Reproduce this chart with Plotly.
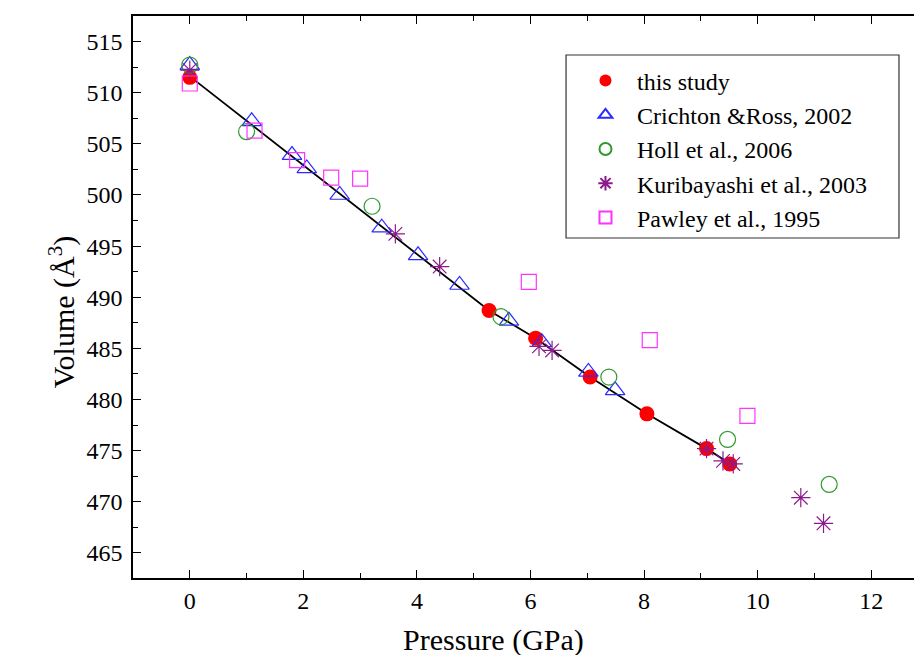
import plotly.graph_objects as go

# this study
study_p = [0.0, 5.27, 6.09, 7.05, 8.05, 9.10, 9.51]
study_v = [511.5, 488.7, 486.0, 482.2, 478.6, 475.2, 473.7]

# Crichton & Ross, 2002
cr_p = [0.0, 1.09, 1.80, 2.06, 2.64, 3.38, 4.02, 4.75, 5.62, 6.20, 7.02, 7.49]
cr_v = [512.7, 507.2, 503.9, 502.6, 500.0, 496.8, 494.1, 491.2, 487.7, 485.6, 482.7, 480.9]

# Holl et al., 2006
holl_p = [0.0, 1.00, 3.21, 5.48, 7.38, 9.47, 11.26]
holl_v = [512.7, 506.2, 498.9, 488.1, 482.2, 476.1, 471.7]

# Kuribayashi et al., 2003
kur_p = [0.0, 3.62, 4.40, 6.15, 6.38, 9.10, 9.39, 9.57, 10.76, 11.16]
kur_v = [512.2, 496.2, 493.0, 485.2, 484.8, 475.2, 474.0, 473.7, 470.4, 467.9]

# Pawley et al., 1995
paw_p = [0.0, 1.14, 1.89, 2.49, 3.00, 5.97, 8.10, 9.82]
paw_v = [510.9, 506.3, 503.4, 501.7, 501.6, 491.5, 485.8, 478.4]

# fitted curve vertices (follow this study)
fit_p = [0.0, 5.27, 6.09, 7.05, 8.05, 9.10, 9.55]
fit_v = [511.6, 488.7, 486.0, 482.2, 478.6, 475.2, 473.6]

FONT = "Liberation Serif"

fig = go.Figure()
fig.add_trace(go.Scatter(x=fit_p, y=fit_v, mode="lines",
                         line=dict(color="black", width=1.8), showlegend=False))
fig.add_trace(go.Scatter(x=study_p, y=study_v, mode="markers", name="this study",
                         marker=dict(symbol="circle", size=15, color="#ff0000")))
fig.add_trace(go.Scatter(x=cr_p, y=cr_v, mode="markers", name="Crichton &Ross, 2002",
                         marker=dict(symbol="triangle-up-open", size=17, color="#2b2bff",
                                     line=dict(width=1.2))))
fig.add_trace(go.Scatter(x=holl_p, y=holl_v, mode="markers", name="Holl et al., 2006",
                         marker=dict(symbol="circle-open", size=16, color="#2e9a2e",
                                     line=dict(width=1.2))))
fig.add_trace(go.Scatter(x=kur_p, y=kur_v, mode="markers", name="Kuribayashi et al., 2003",
                         marker=dict(symbol="asterisk-open", size=16, color="#8b1a8b",
                                     line=dict(width=1.2, color="#8b1a8b"))))
fig.add_trace(go.Scatter(x=paw_p, y=paw_v, mode="markers", name="Pawley et al., 1995",
                         marker=dict(symbol="square-open", size=15, color="#ff33ff",
                                     line=dict(width=1.2))))

axis_common = dict(showline=True, linecolor="black", linewidth=1.5, mirror="allticks",
                   ticks="inside", ticklen=8, tickwidth=1.3, tickcolor="black",
                   showgrid=False, zeroline=False, automargin=False,
                   tickfont=dict(family=FONT, size=24, color="black"))

fig.update_xaxes(range=[-1, 13], dtick=2, tick0=0,
                 minor=dict(dtick=1, ticks="inside", ticklen=5, tickwidth=1.2, tickcolor="black"),
                 ticklabelstandoff=0,
                 **axis_common)
fig.update_yaxes(range=[462.55, 517.5], dtick=5, tick0=465,
                 minor=dict(dtick=2.5, ticks="inside", ticklen=5, tickwidth=1.2, tickcolor="black"),
                 ticklabelstandoff=4,
                 **axis_common)

# legend frame
fig.add_shape(type="rect", xref="paper", yref="paper",
              x0=0.5447, x1=0.9635, y0=0.605, y1=0.9306,
              line=dict(color="#333333", width=1.2), fillcolor="white", layer="below")

fig.add_annotation(text="Volume (Å<sup>3</sup>)", xref="paper", yref="paper",
                   x=-0.0893, y=0.473, textangle=-90, showarrow=False,
                   xanchor="center", yanchor="middle",
                   font=dict(family=FONT, size=30, color="black"))
fig.add_annotation(text="Pressure (GPa)", xref="paper", yref="paper",
                   x=0.454, y=-0.110, showarrow=False,
                   xanchor="center", yanchor="middle",
                   font=dict(family=FONT, size=30, color="black"))

fig.update_layout(
    width=930, height=647,
    margin=dict(l=125, r=10, t=8, b=77),
    paper_bgcolor="white", plot_bgcolor="rgba(0,0,0,0)",
    font=dict(family=FONT, color="black"),
    legend=dict(x=0.5547, y=0.9244, xanchor="left", yanchor="top",
                bgcolor="rgba(0,0,0,0)", borderwidth=0,
                font=dict(family=FONT, size=24, color="black"),
                itemwidth=53, itemsizing="constant", tracegroupgap=0),
)

fig.write_html("out.html")
